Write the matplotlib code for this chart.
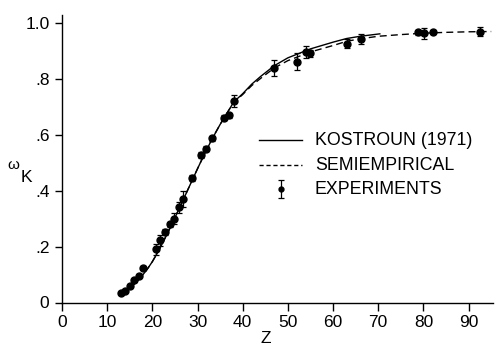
import matplotlib
matplotlib.use("Agg")
import matplotlib.pyplot as plt

plt.rcParams['font.family'] = ['Liberation Sans', 'DejaVu Sans']

# Experimental data
exp_z = [13.0, 13.9, 15.0, 15.9, 17.0, 18.0, 20.7, 21.8, 22.8, 23.9, 24.8, 25.9,
         26.8, 28.8, 30.8, 31.9, 33.1, 35.9, 36.9, 38.0, 47.0, 52.1, 54.0, 55.0,
         63.0, 66.1, 78.7, 80.2, 82.1, 92.6]
exp_w = [0.035, 0.040, 0.060, 0.079, 0.096, 0.124, 0.190, 0.222, 0.252, 0.279, 0.300, 0.340,
         0.370, 0.444, 0.527, 0.550, 0.586, 0.660, 0.668, 0.720, 0.838, 0.860, 0.895, 0.890,
         0.924, 0.942, 0.965, 0.962, 0.967, 0.968]
exp_err = [0.004, 0.004, 0.005, 0.005, 0.005, 0.006, 0.020, 0.020, 0.010, 0.010, 0.020, 0.020,
           0.030, 0.010, 0.010, 0.008, 0.008, 0.008, 0.010, 0.020, 0.030, 0.030, 0.020, 0.012,
           0.016, 0.018, 0.010, 0.020, 0.008, 0.015]

# Kostroun (1971) theory curve
kos_z = [13, 14, 15, 16, 17, 18, 19, 20, 21, 22, 23, 24, 25, 26, 27, 28, 29, 30, 31, 32,
         33, 34, 35, 36, 37, 38, 40, 42, 44, 47, 50, 55, 60, 63, 66, 70.5]
kos_w = [0.030, 0.040, 0.052, 0.066, 0.082, 0.101, 0.122, 0.146, 0.174, 0.204, 0.236, 0.269,
         0.303, 0.338, 0.373, 0.408, 0.443, 0.478, 0.512, 0.545, 0.577, 0.607, 0.636, 0.663,
         0.689, 0.716, 0.746, 0.780, 0.808, 0.846, 0.874, 0.906, 0.930, 0.943, 0.951, 0.960]

# Semiempirical curve
sem_z = [13, 14, 15, 16, 17, 18, 19, 20, 21, 22, 23, 24, 25, 26, 27, 28, 29, 30, 31, 32,
         33, 34, 35, 36, 37, 38, 40, 42, 44, 47, 50, 55, 60, 63, 66, 70, 75, 80, 85, 90, 95]
sem_w = [0.030, 0.040, 0.052, 0.066, 0.082, 0.101, 0.122, 0.146, 0.174, 0.204, 0.236, 0.269,
         0.303, 0.338, 0.373, 0.408, 0.443, 0.478, 0.512, 0.545, 0.577, 0.607, 0.636, 0.663,
         0.689, 0.714, 0.743, 0.775, 0.801, 0.838, 0.864, 0.895, 0.918, 0.933, 0.942, 0.951,
         0.957, 0.962, 0.965, 0.967, 0.968]

xticks = [0, 10, 20, 30, 40, 50, 60, 70, 80, 90]
yticks = [0, 0.2, 0.4, 0.6, 0.8, 1.0]
yticklabels = ['0', '.2', '.4', '.6', '.8', '1.0']
labels = ['KOSTROUN (1971)', 'SEMIEMPIRICAL', 'EXPERIMENTS']

fig = plt.figure(figsize=(4.95, 3.48), dpi=100)
ax = fig.add_axes([62/495, 1 - 302.5/348, (493-62)/495, (302.5-15)/348])

ax.plot(kos_z, kos_w, color='black', lw=1.0, solid_capstyle='butt')
ax.plot(sem_z, sem_w, color='black', lw=1.0, dashes=(5, 3))
ax.errorbar(exp_z, exp_w, yerr=exp_err, fmt='o', color='black', ms=5,
            elinewidth=0.9, capsize=2.2, capthick=0.9)

ax.set_xlim(0, 95.4)
ax.set_ylim(0, 1.027)
ax.set_xticks(xticks)
ax.set_yticks(yticks)
ax.set_yticklabels(yticklabels)
ax.spines['top'].set_visible(False)
ax.spines['right'].set_visible(False)
ax.spines['left'].set_linewidth(1.0)
ax.spines['bottom'].set_linewidth(1.0)
ax.tick_params(axis='x', direction='out', length=6, width=1.0, labelsize=12.5, pad=3)
ax.tick_params(axis='y', direction='out', length=5, width=1.0, labelsize=12.5, pad=4)

ax.text(0.473, -0.125, 'Z', transform=ax.transAxes, ha='center', va='center', fontsize=12.5)
fig.text(13/495, 1 - 165/348, 'ω', ha='center', va='center', fontsize=11)
fig.text(26/495, 1 - 177/348, 'K', ha='center', va='center', fontsize=12.5)

# legend drawn manually to match the layout
leg_y = [0.579, 0.49, 0.404]
ax.plot([43.6, 53.1], [leg_y[0], leg_y[0]], color='black', lw=1.0)
ax.plot([43.6, 53.1], [leg_y[1], leg_y[1]], color='black', lw=1.0, dashes=(3, 2))
ax.errorbar([48.5], [leg_y[2]], yerr=[0.032], fmt='o', color='black', ms=3.5,
            elinewidth=0.9, capsize=2, capthick=0.9)
for lab, yv in zip(labels, leg_y):
    ax.text(56.0, yv, lab, ha='left', va='center', fontsize=12.8)

fig.savefig('out.png', dpi=100)
